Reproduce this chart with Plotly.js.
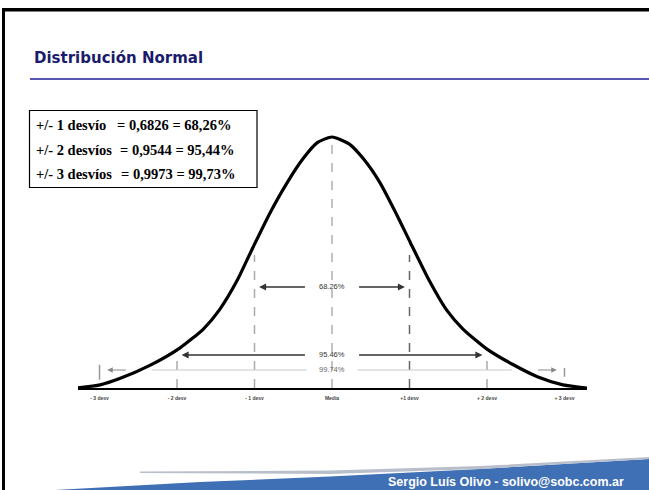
<!DOCTYPE html>
<html>
<head>
<meta charset="utf-8">
<script src="https://cdn.plot.ly/plotly-3.0.1.min.js"></script>
<style>html,body{margin:0;padding:0;background:#fff;}#chart{width:649px;height:490px;}</style>
</head>
<body>
<div id="chart"></div>
<script>
// ---- data ----
const curveX = [-3.28,-2.99,-2.74,-2.35,-1.96,-1.66,-1.45,-1.23,-1.02,-0.80,-0.58,-0.37,-0.19,0,0.22,0.40,0.62,0.84,1.01,1.26,1.48,1.69,2.0,2.34,2.65,2.98,3.29];
const curveY = [0,0.005,0.015,0.036,0.064,0.094,0.125,0.17,0.224,0.279,0.327,0.366,0.391,0.40,0.389,0.366,0.327,0.275,0.232,0.17,0.124,0.094,0.062,0.037,0.018,0.005,0];
const sigmaPos = [-3,-2,-1,0,1,2,3];
const tickLabels = ["- 3 desv","- 2 desv","- 1 desv","Media","+1 desv","+ 2 desv","+ 3 desv"];
const guideTop = [0.037,0.053,0.212,0.39,0.212,0.053,0.032];
const guideBottom = [0.013,0,0,0,0,0,0.018];
const bandLabels = ["68.26%","95.46%","99.74%"];
const bandSigma = [1,2,3];
const bandHeight = [0.161,0.0526,0.0287];
const boxLeft = ["+/- 1 desvío","+/- 2 desvíos","+/- 3 desvíos"];
const boxRight = ["= 0,6826 = 68,26%","= 0,9544 = 95,44%","= 0,9973 = 99,73%"];
const titleText = "Distribución Normal";
const footerText = "Sergio Luís Olivo - solivo@sobc.com.ar";

// ---- geometry helpers (pixel -> paper) ----
const L = 78, R = 587, T = 100, B = 388;
const W = R - L, H = B - T;
const px = x => (x - L) / W;
const py = y => (B - y) / H;

const shapes = [];
const annotations = [];

// slide frame
shapes.push({type:'rect', xref:'paper', yref:'paper', x0:px(2), x1:px(5), y0:py(490), y1:py(8), fillcolor:'#000', line:{width:0}, layer:'below'});
shapes.push({type:'rect', xref:'paper', yref:'paper', x0:px(2), x1:px(649), y0:py(11.5), y1:py(8), fillcolor:'#000', line:{width:0}, layer:'below'});
// title underline
shapes.push({type:'line', xref:'paper', yref:'paper', x0:px(30), x1:px(649), y0:py(79), y1:py(79), line:{color:'#5457ad', width:2}, layer:'below'});
// footer swoosh
function pathFrom(pts){return 'M ' + pts.map(p => px(p[0]) + ',' + py(p[1])).join(' L ') + ' Z';}
shapes.push({type:'path', xref:'paper', yref:'paper', path:pathFrom([[55,490],[200,482],[330,476.5],[480,469],[649,459],[649,490]]), fillcolor:'#3f6fb5', line:{width:0}, layer:'below'});
shapes.push({type:'path', xref:'paper', yref:'paper', path:pathFrom([[140,471.5],[330,470.5],[480,466],[649,457],[649,459],[480,469],[330,474],[140,473]]), fillcolor:'#b9bfca', line:{width:0}, layer:'below'});

// box
shapes.push({type:'rect', xref:'paper', yref:'paper', x0:px(29.5), x1:px(257), y0:py(187.5), y1:py(110.5), fillcolor:'rgba(0,0,0,0)', line:{color:'#000', width:1.2}});

// guide lines at sigma positions
const guideColors = ['#999','#aaa','#aaa','#b0b0b0','#666','#aaa','#999'];
sigmaPos.forEach((s,i) => {
  shapes.push({type:'line', xref:'x', yref:'y', x0:s, x1:s, y0:guideBottom[i], y1:guideTop[i],
    line:{color:guideColors[i], width:1.5, dash: Math.abs(s)===3 ? 'solid' : 'dash'}, layer:'below'});
});

// bands with arrows
const textHalf = 0.33;
bandLabels.forEach((lab,i) => {
  const k = bandSigma[i], h = bandHeight[i];
  annotations.push({x:0, y:h, xref:'x', yref:'y', text:lab, showarrow:false,
    font:{family:'Arial, Liberation Sans', size:7.5, color: i===2 ? '#666' : '#333'}});
  if (i < 2) {
    [-1,1].forEach(sg => {
      annotations.push({x:sg*(k-0.06), y:h, ax:sg*textHalf, ay:h, xref:'x', yref:'y', axref:'x', ayref:'y',
        text:'', showarrow:true, arrowhead:2, arrowsize:1, arrowwidth:1.4, arrowcolor:'#333'});
    });
  } else {
    [-1,1].forEach(sg => {
      shapes.push({type:'line', xref:'x', yref:'y', x0:sg*textHalf, x1:sg*(k-0.68), y0:h, y1:h, line:{color:'#c8c8c8', width:1.2}, layer:'below'});
      annotations.push({x:sg*(k-0.1), y:h, ax:sg*(k-0.36), ay:h, xref:'x', yref:'y', axref:'x', ayref:'y',
        text:'', showarrow:true, arrowhead:2, arrowsize:1, arrowwidth:1.1, arrowcolor:'#888'});
    });
  }
});

// title
annotations.push({xref:'paper', yref:'paper', x:px(32), y:py(57.5), xanchor:'left', yanchor:'middle', text:'<b>'+titleText+'</b>', showarrow:false,
  font:{family:'DejaVu Sans, Verdana', size:15, color:'#1b1b6b'}});

// box text
const rowsY = [125.5, 150, 174];
const rightX = [115, 118, 119];
boxLeft.forEach((t,i) => {
  annotations.push({xref:'paper', yref:'paper', x:px(34), y:py(rowsY[i]), xanchor:'left', yanchor:'middle', text:'<b>'+t+'</b>', showarrow:false,
    font:{family:'Liberation Serif, Times New Roman', size:14.5, color:'#000'}});
  annotations.push({xref:'paper', yref:'paper', x:px(rightX[i]), y:py(rowsY[i]), xanchor:'left', yanchor:'middle', text:'<b>'+boxRight[i]+'</b>', showarrow:false,
    font:{family:'Liberation Serif, Times New Roman', size:14.5, color:'#000'}});
});

// footer text
annotations.push({xref:'paper', yref:'paper', x:px(386), y:py(481.5), xanchor:'left', yanchor:'middle', text:'<b>'+footerText+'</b>', showarrow:false,
  font:{family:'Liberation Sans, Arial', size:12.5, color:'#fff'}});

const trace = {x:curveX, y:curveY, type:'scatter', mode:'lines', line:{color:'#000', width:3.2, shape:'spline', smoothing:0.6}, hoverinfo:'skip'};

const layout = {
  width:649, height:490,
  margin:{l:L, r:649-R, t:T, b:490-B, pad:0},
  paper_bgcolor:'#fff', plot_bgcolor:'rgba(0,0,0,0)',
  showlegend:false,
  xaxis:{range:[(L-332)/77.5,(R-332)/77.5], showgrid:false, zeroline:false, showline:true, linecolor:'#000', linewidth:2.2,
    tickmode:'array', tickvals:sigmaPos, ticktext:tickLabels, ticks:'', ticklabelstandoff:4,
    tickfont:{family:'Arial, Liberation Sans', size:5, color:'#444', weight:'bold'}, fixedrange:true},
  yaxis:{range:[0, H/627.5], visible:false, fixedrange:true},
  shapes:shapes, annotations:annotations
};

Plotly.newPlot('chart',[trace],layout,{displayModeBar:false, staticPlot:true});
</script>
</body>
</html>
